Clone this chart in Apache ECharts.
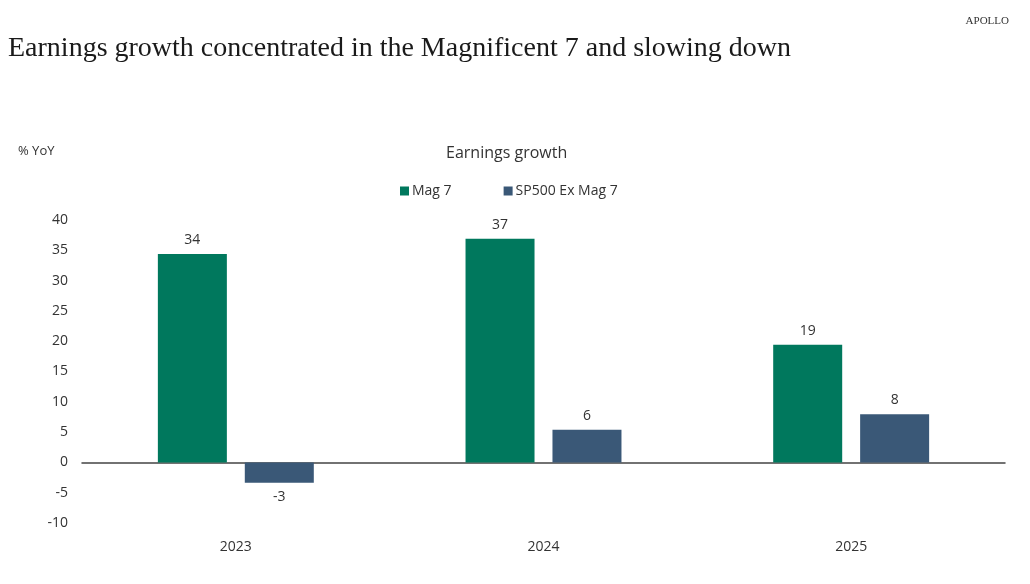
<!DOCTYPE html>
<html>
<head>
<meta charset="utf-8">
<script src="https://cdn.jsdelivr.net/npm/echarts@6/dist/echarts.min.js"></script>
<style>html,body{margin:0;padding:0;background:#fff}#c{width:1030px;height:584px}</style>
</head>
<body>
<div id="c"></div>
<script>
const categories = ['2023', '2024', '2025'];
const seriesNames = ['Mag 7', 'SP500 Ex Mag 7'];
const mag7 = [34.4, 36.9, 19.4];
const spExMag7 = [-3.35, 5.4, 7.95];
const mag7Labels = ['34', '37', '19'];
const spExMag7Labels = ['-3', '6', '8'];
const yTicks = { min: -10, max: 40, interval: 5 };

const GREEN = '#00785d';
const BLUE = '#3a5877';
const sans = '"Open Sans", "Noto Sans", sans-serif';

function items(vals, labels) {
  return vals.map((v, i) => ({
    value: v,
    label: { position: v < 0 ? 'bottom' : 'top', formatter: labels[i] }
  }));
}

const chart = echarts.init(document.getElementById('c'));
chart.setOption({
  animation: false,
  title: [
    { text: 'Earnings growth concentrated in the Magnificent 7 and slowing down', left: 3, top: 30,
      textStyle: { fontFamily: '"Liberation Serif", "DejaVu Serif", serif', fontSize: 28, fontWeight: 'normal', color: '#1a1a1a' } },
    { text: 'APOLLO', right: 16, top: 11,
      textStyle: { fontFamily: '"Liberation Serif", serif', fontSize: 11, fontWeight: 'normal', color: '#333' } },
    { text: '% YoY', left: 13, top: 140,
      textStyle: { fontFamily: sans, fontSize: 13, fontWeight: 'normal', color: '#333' } },
    { text: 'Earnings growth', left: 441, top: 140,
      textStyle: { fontFamily: sans, fontSize: 16, fontWeight: 'normal', color: '#333' } }
  ],
  legend: {
    left: 395, top: 179, itemWidth: 9, itemHeight: 9, itemGap: 52, icon: 'rect',
    textStyle: { fontFamily: sans, fontSize: 14, color: '#333', padding: [0, 0, 0, -2] },
    data: seriesNames
  },
  grid: { left: 82, right: 25, top: 220, bottom: 61, containLabel: false, outerBoundsMode: 'none' },
  xAxis: {
    type: 'category', data: categories,
    axisLine: { onZero: true, lineStyle: { color: '#444', width: 1.5 } },
    axisTick: { show: false },
    axisLabel: { fontFamily: sans, fontSize: 14, color: '#333', margin: 17 }
  },
  yAxis: {
    type: 'value', min: yTicks.min, max: yTicks.max, interval: yTicks.interval,
    axisLine: { show: false }, axisTick: { show: false }, splitLine: { show: false },
    axisLabel: { fontFamily: sans, fontSize: 14, color: '#333', margin: 14 }
  },
  series: [
    { name: seriesNames[0], type: 'bar', data: items(mag7, mag7Labels), barWidth: 69, barGap: '26%',
      itemStyle: { color: GREEN },
      label: { show: true, fontFamily: sans, fontSize: 14, color: '#333', distance: 7 } },
    { name: seriesNames[1], type: 'bar', data: items(spExMag7, spExMag7Labels), barWidth: 69,
      itemStyle: { color: BLUE },
      label: { show: true, fontFamily: sans, fontSize: 14, color: '#333', distance: 7 } }
  ]
});
</script>
</body>
</html>
